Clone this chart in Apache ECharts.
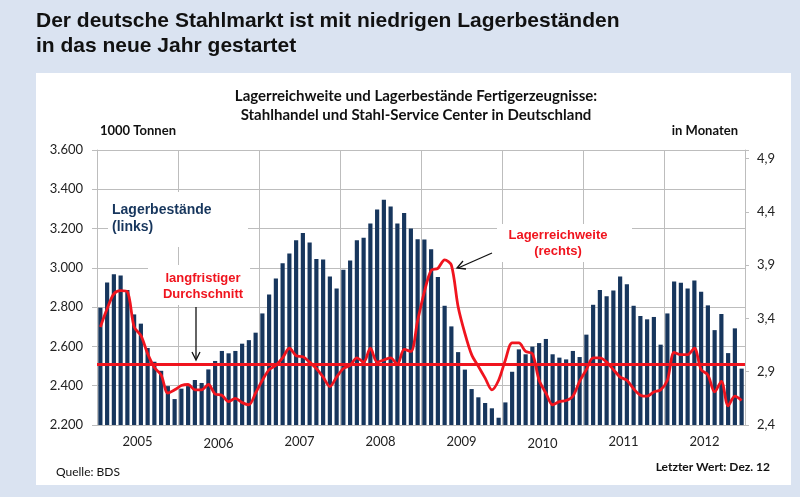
<!DOCTYPE html>
<html>
<head>
<meta charset="utf-8">
<script src="https://cdn.jsdelivr.net/npm/echarts@6/dist/echarts.min.js"></script>
<style>
    html, body { margin: 0; padding: 0; background: #dae3f1; }
    #panel { position: absolute; left: 36px; top: 73px; width: 755px; height: 412px; background: #fff; }
    #container { position: absolute; left: 0; top: 0; width: 800px; height: 497px; }
</style>
</head>
<body>
<div id="panel"></div>
<div id="container"></div>
<script>
// Jahre (Achsenbeschriftung)
var years = ['2005', '2006', '2007', '2008', '2009', '2010', '2011', '2012'];

// Lagerbestände in 1000 t (links), Jan 2005 - Dez 2012
var bestand = [
    2797, 2926, 2967, 2961, 2887, 2763, 2716, 2592, 2522, 2476, 2398, 2332,
    2385, 2398, 2429, 2414, 2483, 2526, 2577, 2565, 2577, 2614, 2632, 2670,
    2768, 2865, 2946, 3023, 3073, 3141, 3177, 3129, 3045, 3043, 2956, 2895,
    2990, 3038, 3141, 3153, 3226, 3297, 3347, 3313, 3226, 3279, 3201, 3146,
    3145, 3095, 2953, 2807, 2702, 2571, 2482, 2383, 2341, 2312, 2285, 2237,
    2315, 2471, 2585, 2560, 2599, 2617, 2638, 2560, 2543, 2534, 2577, 2546,
    2660, 2812, 2887, 2856, 2885, 2956, 2916, 2807, 2755, 2738, 2750, 2609,
    2768, 2931, 2924, 2895, 2936, 2878, 2809, 2683, 2765, 2566, 2692, 2487
];

// Lagerreichweite in Monaten (rechts)
var reichweite = [
    3.32, 3.49, 3.63, 3.66, 3.65, 3.32, 3.24, 3.07, 2.94, 2.87, 2.70, 2.73,
    2.77, 2.78, 2.73, 2.73, 2.78, 2.69, 2.68, 2.62, 2.65, 2.61, 2.59, 2.70,
    2.82, 2.92, 2.96, 3.03, 3.12, 3.05, 3.04, 2.99, 2.93, 2.85, 2.76, 2.85,
    2.93, 2.96, 3.03, 2.99, 3.12, 2.99, 3.01, 3.03, 2.97, 3.11, 3.09, 3.38,
    3.65, 3.85, 3.87, 3.95, 3.90, 3.51, 3.26, 3.06, 2.95, 2.84, 2.73, 2.82,
    3.01, 3.17, 3.17, 3.09, 3.07, 2.82, 2.70, 2.59, 2.62, 2.63, 2.67, 2.81,
    2.92, 3.03, 3.03, 2.99, 2.92, 2.85, 2.82, 2.74, 2.68, 2.67, 2.71, 2.73,
    2.82, 3.08, 3.06, 3.06, 3.12, 2.92, 2.87, 2.71, 2.81, 2.58, 2.67, 2.63
];

// langfristiger Durchschnitt der Reichweite
var durchschnitt = 2.97;

var months = [];
years.forEach(function (y) {
    for (var m = 1; m <= 12; m++) {
        months.push(y + '-' + (m < 10 ? '0' + m : m));
    }
});

var RED = '#f0141e';
var NAVY = '#17365d';
var GRID = '#bdbdbd';
var calibri = 'Lato, "Noto Sans", sans-serif';
var arial = '"Liberation Sans", Arial, sans-serif';

function txt(x, y, text, font, fill, align) {
    return {
        type: 'text', x: x, y: y, z: 100,
        style: { text: text, font: font, fill: fill, align: align || 'left', verticalAlign: 'middle' }
    };
}
function box(x, y, w, h) {
    return { type: 'rect', z: 50, shape: { x: x, y: y, width: w, height: h }, style: { fill: '#fff' } };
}

var myChart = echarts.init(document.getElementById('container'));

var option = {
    backgroundColor: 'transparent',
    animation: false,
    grid: { left: 97, right: 55, top: 150, bottom: 72 },
    xAxis: [{
        type: 'category',
        data: months,
        show: false
    }, {
        type: 'category',
        data: years,
        position: 'bottom',
        boundaryGap: true,
        axisLine: { show: true, lineStyle: { color: GRID } },
        axisTick: { show: false },
        splitLine: { show: true, lineStyle: { color: GRID, width: 1 } },
        axisLabel: {
            margin: 10,
            color: '#222',
            fontFamily: calibri,
            fontSize: 13,
            formatter: function (v) {
                return (v === '2006' || v === '2010') ? '{lo|' + v + '}' : v;
            },
            rich: { lo: { fontFamily: calibri, fontSize: 13, color: '#222', padding: [2, 0, 0, 0] } }
        }
    }],
    yAxis: [{
        type: 'value',
        min: 2200,
        max: 3600,
        interval: 200,
        axisLine: { show: true, lineStyle: { color: GRID } },
        axisTick: { show: true, length: 5, lineStyle: { color: GRID } },
        splitLine: { show: true, lineStyle: { color: GRID, width: 1 } },
        axisLabel: {
            margin: 14,
            color: '#222',
            fontFamily: calibri,
            fontSize: 13,
            formatter: function (v) {
                return String(v).replace(/(\d)(\d{3})$/, '$1.$2');
            }
        }
    }, {
        type: 'value',
        min: 2.4,
        max: 4.98,
        interval: 0.5,
        position: 'right',
        axisLine: { show: true, lineStyle: { color: GRID } },
        axisTick: { show: true, length: 4, lineStyle: { color: GRID } },
        splitLine: { show: false },
        axisLabel: {
            margin: 12,
            color: '#222',
            fontFamily: calibri,
            fontSize: 13,
            formatter: function (v) {
                if (v > 4.95) return '';
                return v.toFixed(1).replace('.', ',');
            }
        }
    }],
    series: [{
        name: 'Lagerbestände',
        type: 'bar',
        xAxisIndex: 0,
        yAxisIndex: 0,
        data: bestand,
        barCategoryGap: '38%',
        itemStyle: { color: NAVY },
        z: 2
    }, {
        name: 'Lagerreichweite',
        type: 'line',
        xAxisIndex: 0,
        yAxisIndex: 1,
        data: reichweite,
        smooth: 0.3,
        showSymbol: false,
        lineStyle: { color: RED, width: 2.8 },
        z: 4,
        markLine: {
            silent: true,
            symbol: ['none', 'none'],
            label: { show: false },
            lineStyle: { color: RED, width: 2.8, type: 'solid' },
            data: [{ yAxis: durchschnitt }]
        }
    }],
    graphic: [
        // Überschrift
        txt(36, 21, 'Der deutsche Stahlmarkt ist mit niedrigen Lagerbeständen', 'bold 21px ' + arial, '#111'),
        txt(36, 46, 'in das neue Jahr gestartet', 'bold 21px ' + arial, '#111'),
        // Diagrammtitel
        txt(416, 96, 'Lagerreichweite und Lagerbestände Fertigerzeugnisse:', 'bold 15px ' + calibri, '#111', 'center'),
        txt(416, 115, 'Stahlhandel und Stahl-Service Center in Deutschland', 'bold 15px ' + calibri, '#111', 'center'),
        txt(100, 131, '1000 Tonnen', 'bold 13px ' + calibri, '#111'),
        txt(738, 131, 'in Monaten', 'bold 13px ' + calibri, '#111', 'right'),
        // Beschriftungen
        box(108, 192, 140, 55),
        txt(112, 210, 'Lagerbestände', 'bold 14px ' + arial, NAVY),
        txt(112, 227, '(links)', 'bold 14px ' + arial, NAVY),
        box(148, 265, 102, 40),
        txt(203, 278, 'langfristiger', 'bold 13px ' + arial, RED, 'center'),
        txt(203, 294, 'Durchschnitt', 'bold 13px ' + arial, RED, 'center'),
        box(497, 224, 135, 38),
        txt(558, 235, 'Lagerreichweite', 'bold 13px ' + arial, RED, 'center'),
        txt(558, 251, '(rechts)', 'bold 13px ' + arial, RED, 'center'),
        // Pfeile
        { type: 'line', z: 100, shape: { x1: 196, y1: 307, x2: 196, y2: 359 }, style: { stroke: '#111', lineWidth: 1.3 } },
        { type: 'polyline', z: 100, shape: { points: [[192, 352], [196, 360], [200, 352]] }, style: { stroke: '#111', lineWidth: 1.3, fill: null } },
        { type: 'line', z: 100, shape: { x1: 492, y1: 253, x2: 458, y2: 268 }, style: { stroke: '#111', lineWidth: 1.3 } },
        { type: 'polyline', z: 100, shape: { points: [[463, 261], [457, 268], [466, 269]] }, style: { stroke: '#111', lineWidth: 1.3, fill: null } },
        // Fußnoten
        txt(56, 472, 'Quelle: BDS', '12px ' + calibri, '#111'),
        txt(770, 467, 'Letzter Wert: Dez. 12', 'bold 12px ' + calibri, '#111', 'right')
    ]
};
myChart.setOption(option);
</script>
</body>
</html>
